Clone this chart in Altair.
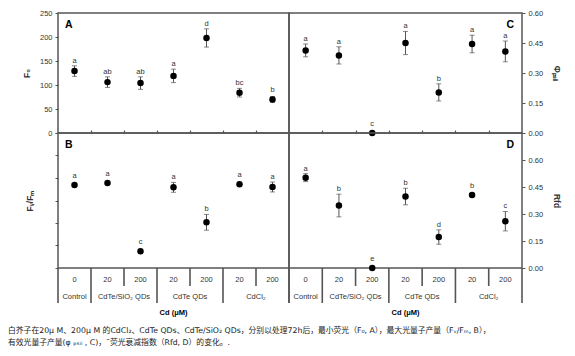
import altair as alt
import pandas as pd

conc = ["0", "20", "200", "20", "200", "20", "200"]
groups = ["Control", "CdTe/SiO₂ QDs", "CdTe QDs", "CdCl₂"]
group_span = [1, 2, 2, 2]
x_title = "Cd (μM)"

f0 = [129, 106, 104, 119, 198, 84, 70]
f0_err = [11, 11, 13, 14, 19, 9, 6]
f0_sig = ["a", "ab", "ab", "a", "d", "bc", "b"]

fvfm = [0.738, 0.756, 0.148, 0.717, 0.406, 0.744, 0.720]
fvfm_err = [0.012, 0.012, 0.015, 0.044, 0.070, 0.012, 0.044]
fvfm_sig = ["a", "a", "c", "a", "b", "a", "a"]

phi = [0.413, 0.388, 0.0, 0.450, 0.203, 0.445, 0.408]
phi_err = [0.032, 0.043, 0.0, 0.058, 0.043, 0.044, 0.052]
phi_sig = ["a", "a", "c", "a", "b", "a", "a"]

rfd = [0.502, 0.347, 0.0, 0.397, 0.172, 0.406, 0.260]
rfd_err = [0.022, 0.063, 0.0, 0.046, 0.040, 0.008, 0.054]
rfd_sig = ["a", "b", "e", "b", "d", "b", "c"]

caption = [
    "白芥子在20μ M、200μ M 的CdCl₂、CdTe QDs、CdTe/SiO₂ QDs，分别以处理72h后，最小荧光（F₀, A），最大光量子产量（Fᵥ/Fₘ, B），",
    "有效光量子产量(φ ₚₛᵢᵢ , C)，\u02dc荧光衰减指数（Rfd, D）的变化。.",
]

FONT = "Liberation Sans"
GRAY = "#555555"
TXT = "#333333"
N = len(conc)
XSCALE = alt.Scale(domain=[0, N], nice=False, zero=False)
NOSTROKE = alt.ViewBackground(stroke="transparent")
LAB_H = 50


def panel(vals, errs, sigs, ymax, ticks, fmt, orient, title, letter, right_letter,
          width, height, show_labels, bottom, title_pad):
    df = pd.DataFrame({"pos": [i + 0.5 for i in range(N)], "v": vals, "e": errs, "s": sigs})
    df["lo"] = df["v"] - df["e"]
    df["hi"] = df["v"] + df["e"]
    pad = ymax * 4.0 / height
    df["ly"] = [max(h, v + pad) for h, v in zip(df["hi"], df["v"])]
    yscale = alt.Scale(domain=[0, ymax], nice=False, zero=True)
    if bottom:
        xaxis = alt.Axis(orient="top", values=list(range(1, N)), labels=False, domain=False,
                         grid=False, ticks=True, tickSize=3, tickColor=GRAY, tickWidth=1.2,
                         title="")
    else:
        xaxis = None
    yaxis = alt.Axis(orient=orient, values=ticks, format=fmt, labels=show_labels, domain=False,
                     grid=False, tickSize=3, tickColor=GRAY, tickWidth=1, labelFontSize=7.5,
                     labelColor=TXT, labelFont=FONT, labelPadding=3, title=title,
                     titleFont=FONT, titleFontSize=8.5, titleFontWeight="bold",
                     titleColor=TXT, titlePadding=title_pad)
    base = alt.Chart(df)
    x = alt.X("pos:Q", scale=XSCALE, axis=xaxis)
    rule = base.mark_rule(color=GRAY, strokeWidth=1).encode(
        x=x, y=alt.Y("lo:Q", scale=yscale, axis=yaxis), y2="hi:Q")
    cap_lo = base.mark_tick(orient="horizontal", size=5, thickness=1, color=GRAY).encode(
        x=x, y=alt.Y("lo:Q", scale=yscale, axis=yaxis))
    cap_hi = base.mark_tick(orient="horizontal", size=5, thickness=1, color=GRAY).encode(
        x=x, y=alt.Y("hi:Q", scale=yscale, axis=yaxis))
    pts = base.mark_circle(size=42, color="black", opacity=1).encode(
        x=x, y=alt.Y("v:Q", scale=yscale, axis=yaxis))
    txt = base.mark_text(fontSize=7.5, color=TXT, font=FONT, baseline="alphabetic", dy=-3).encode(
        x=x, y=alt.Y("ly:Q", scale=yscale, axis=yaxis), text="s:N")
    lab_df = pd.DataFrame({"letter": [letter]})
    lab = alt.Chart(lab_df).mark_text(
        fontSize=10.5, fontWeight="bold", font=FONT, color="black",
        align="right" if right_letter else "left", baseline="top").encode(
        x=alt.value(width - 8 if right_letter else 7), y=alt.value(7), text="letter:N")
    return alt.layer(rule, cap_lo, cap_hi, pts, txt, lab).properties(width=width, height=height)


def labels_chart(width):
    cum = [0]
    for s in group_span:
        cum.append(cum[-1] + s)
    centers = [(cum[i] + cum[i + 1]) / 2 for i in range(len(groups))]
    full_df = pd.DataFrame({"b": cum})
    short_df = pd.DataFrame({"b": [b for b in range(N + 1) if b not in cum]})
    # row index of each text line (0 = concentrations, 1 = treatments, 2 = axis title)
    txt_df = pd.DataFrame({
        "pos": [i + 0.5 for i in range(N)] + centers,
        "t": conc + groups,
        "row": [0] * N + [1] * len(groups),
    })
    ttl_df = pd.DataFrame({"pos": [N / 2], "t": [x_title], "row": [2]})
    yscale = alt.Scale(domain=[-0.72, 2.28], range=[0, LAB_H], nice=False, zero=False)
    full = alt.Chart(full_df).mark_rule(color=GRAY, strokeWidth=1.6).encode(
        x=alt.X("b:Q", scale=XSCALE, axis=None), y=alt.value(0), y2=alt.value(35))
    short = alt.Chart(short_df).mark_rule(color=GRAY, strokeWidth=1.6).encode(
        x=alt.X("b:Q", scale=XSCALE, axis=None), y=alt.value(0), y2=alt.value(18))
    tx = alt.Chart(txt_df).mark_text(fontSize=7.5, font=FONT, color=TXT, baseline="middle").encode(
        x=alt.X("pos:Q", scale=XSCALE, axis=None),
        y=alt.Y("row:Q", scale=yscale, axis=None), text="t:N")
    tb = alt.Chart(ttl_df).mark_text(fontSize=7.5, font=FONT, fontWeight="bold", color="black",
                                     baseline="middle").encode(
        x=alt.X("pos:Q", scale=XSCALE, axis=None),
        y=alt.Y("row:Q", scale=yscale, axis=None), text="t:N")
    return alt.layer(full, short, tx, tb).properties(width=width, height=LAB_H, view=NOSTROKE)


WL, WR = 231, 233
HT, HB = 120, 135

pA = panel(f0, f0_err, f0_sig, 250, [0, 50, 100, 150, 200, 250], "d", "left", "F₀", "A", False,
           WL, HT, True, False, 8)
pC = panel(phi, phi_err, phi_sig, 0.6, [0, 0.15, 0.30, 0.45, 0.60], ".2f", "right", "Φₚₛᵢᵢ", "C", True,
           WR, HT, True, False, 9)
pB = panel(fvfm, fvfm_err, fvfm_sig, 1.2, [0, 0.2, 0.4, 0.6, 0.8, 1.0, 1.2], ".1f", "left", "Fᵥ/Fₘ", "B",
           False, WL, HB, False, True, 20)
pD = panel(rfd, rfd_err, rfd_sig, 0.75, [0, 0.15, 0.30, 0.45, 0.60], ".2f", "right", "Rfd", "D", True,
           WR, HB, True, True, 9)

chart = alt.concat(
    pA, pC, pB, pD, labels_chart(WL), labels_chart(WR),
    columns=2, spacing=0, bounds="flush", align="each",
).properties(
    title=alt.TitleParams(text=caption, orient="bottom", anchor="start", frame="group", dx=-50,
                          offset=8, fontSize=7.8, fontWeight="normal",
                          font="DejaVu Sans, Noto Sans CJK SC",
                          color="#222222", lineHeight=12),
    padding={"left": 0, "top": 0, "right": 5, "bottom": 5},
).configure_view(stroke=GRAY, strokeWidth=1.5)

chart.save("out.html", embed_options={"renderer": "svg", "actions": False})
